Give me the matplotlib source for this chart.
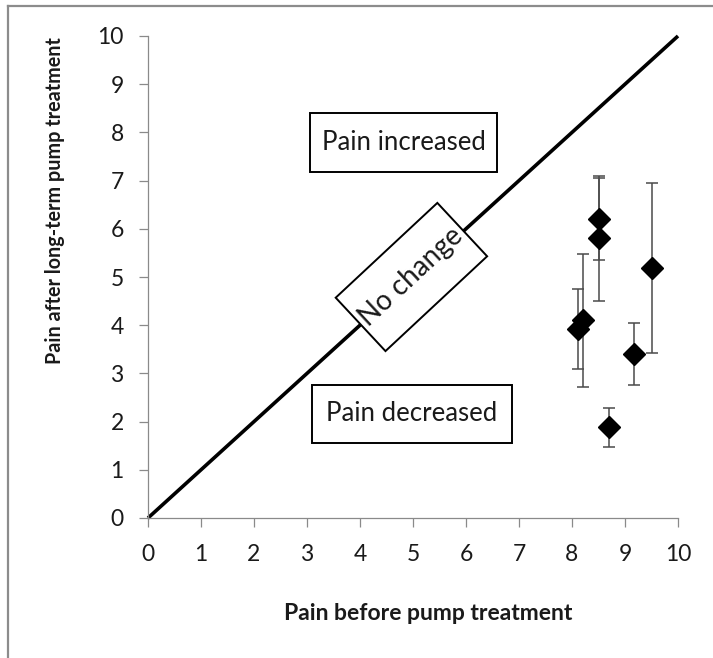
import matplotlib
matplotlib.use("Agg")
import matplotlib.pyplot as plt
import matplotlib.transforms as mtransforms
from matplotlib.patches import Rectangle
from matplotlib.lines import Line2D

# ---- data ----
pain_before = [8.12, 8.20, 8.50, 8.50, 8.70, 9.17, 9.50]
pain_after = [3.92, 4.10, 6.20, 5.80, 1.88, 3.40, 5.18]
pain_after_err = [0.83, 1.38, 0.85, 1.30, 0.40, 0.65, 1.76]
ticks = list(range(0, 11))
no_change_line = [0, 10]

FONT = "Lato"
plt.rcParams["font.family"] = [FONT, "DejaVu Sans"]

W, H = 713, 658
fig = plt.figure(figsize=(W / 100, H / 100), dpi=100)
fig.patch.set_facecolor("white")

# axes position in pixels
x0, x1, ytop, ybot = 148, 678, 36, 518
ax = fig.add_axes([x0 / W, 1 - ybot / H, (x1 - x0) / W, (ybot - ytop) / H])
ax.set_xlim(0, 10)
ax.set_ylim(0, 10)

for s in ("top", "right"):
    ax.spines[s].set_visible(False)
for s in ("left", "bottom"):
    ax.spines[s].set_color("#8a8a8a")
    ax.spines[s].set_linewidth(0.9)

ax.set_xticks(ticks)
ax.set_yticks(ticks)
ax.tick_params(axis="both", direction="out", length=6.5, width=0.9,
               color="#8a8a8a", labelsize=16.5, labelcolor="#1a1a1a")
ax.tick_params(axis="x", pad=12)
ax.tick_params(axis="y", pad=11)

# diagonal no-change line
ax.plot(no_change_line, no_change_line, color="black", lw=2.6,
        solid_capstyle="butt", clip_on=False, zorder=2)

# data with error bars
ax.errorbar(pain_before, pain_after, yerr=pain_after_err, fmt="D",
            color="black", markersize=11, ecolor="#4a4a4a", elinewidth=1.1,
            capsize=4.5, capthick=1.1, zorder=4, clip_on=False)

# text boxes (horizontal)
ax.add_patch(Rectangle((3.06, 7.18), 3.52, 1.22, facecolor="white",
                       edgecolor="black", lw=1.4, zorder=5))
ax.text(4.82, 7.79, "Pain increased", ha="center", va="center",
        fontsize=18.5, color="#1a1a1a", zorder=6)
ax.add_patch(Rectangle((3.09, 1.56), 3.78, 1.20, facecolor="white",
                       edgecolor="black", lw=1.4, zorder=5))
ax.text(4.98, 2.16, "Pain decreased", ha="center", va="center",
        fontsize=18.5, color="#1a1a1a", zorder=6)

# rotated "No change" box
ang = 43
rot = (mtransforms.Affine2D().rotate_deg(ang)
       + mtransforms.ScaledTranslation(4.97, 5.0, ax.transData))
bw, bh = 139, 73
ax.add_patch(Rectangle((-bw / 2, -bh / 2), bw, bh, transform=rot,
                       facecolor="white", edgecolor="black", lw=1.4,
                       zorder=5, clip_on=False))
ax.text(4.97, 5.0, "No change", ha="center", va="center",
        rotation=ang, rotation_mode="anchor", fontsize=20,
        color="#1a1a1a", zorder=6)

# axis titles
fig.text(428 / W, 1 - 613 / H, "Pain before pump treatment", ha="center",
         va="center", fontsize=16.5, fontweight="bold", color="#1a1a1a")
fig.text(55 / W, 1 - 201 / H, "Pain after long-term pump treatment",
         ha="center", va="center", rotation=90, fontsize=14.2,
         fontweight="bold", color="#1a1a1a")

# outer chart frame (left and top edges visible)
fig.add_artist(Line2D([8 / W, 8 / W], [0, 1 - 6 / H], transform=fig.transFigure,
                      color="#8c8c8c", lw=1.6))
fig.add_artist(Line2D([8 / W, 1], [1 - 6 / H, 1 - 6 / H], transform=fig.transFigure,
                      color="#8c8c8c", lw=1.6))

fig.savefig("out.png", dpi=100)
